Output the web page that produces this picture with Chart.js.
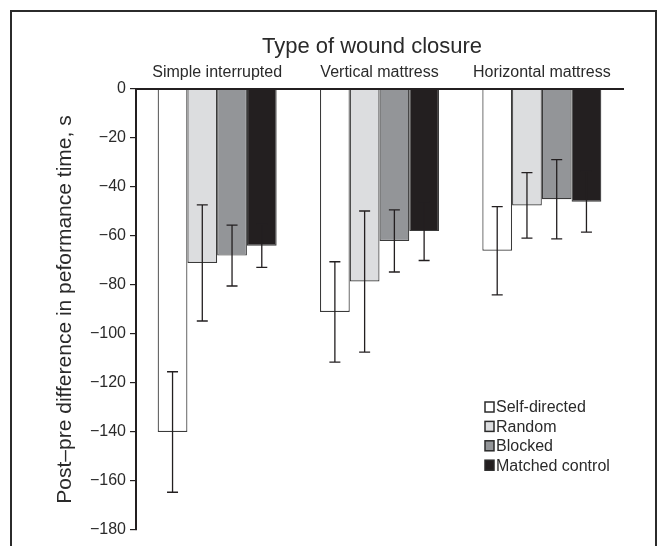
<!DOCTYPE html>
<html>
<head>
<meta charset="utf-8">
<script src="https://cdn.jsdelivr.net/npm/chart.js@4.4.1/dist/chart.umd.min.js"></script>
<style>
  html, body { margin: 0; padding: 0; background: #fff; }
  canvas { display: block; }
</style>
</head>
<body>
<canvas id="woundChart" width="658" height="546"></canvas>
<script>
// Data
const categories = ['Simple interrupted', 'Vertical mattress', 'Horizontal mattress'];
const seriesNames = ['Self-directed', 'Random', 'Blocked', 'Matched control'];
const selfDirected = [-140, -91, -66];
const selfDirectedErr = [24.6, 20.5, 18];
const random = [-71, -78.6, -47.5];
const randomErr = [23.7, 28.8, 13.4];
const blocked = [-68, -62, -45];
const blockedErr = [12.4, 12.7, 16.2];
const matched = [-64, -58, -46];
const matchedErr = [8.8, 12, 12.4];
const yTicks = { min: -180, max: 0, step: 20 };
const groupTitle = 'Type of wound closure';

const fills = ['#ffffff', '#dcdddf', '#939598', '#231f20'];
const textColor = '#2a2a2a';
const fontFamily = "'Liberation Sans', Arial, sans-serif";

// Frame round the figure + group title over the categories
const framePlugin = {
    id: 'frame',
    beforeDraw(chart) {
        const c = chart.ctx;
        c.save();
        c.strokeStyle = '#2b2b2b';
        c.lineWidth = 2;
        c.beginPath();
        c.moveTo(11, 546);
        c.lineTo(11, 11);
        c.lineTo(656, 11);
        c.lineTo(656, 546);
        c.stroke();
        c.font = '22px ' + fontFamily;
        c.fillStyle = textColor;
        c.textAlign = 'center';
        c.textBaseline = 'alphabetic';
        c.fillText(groupTitle, 372, 53);
        c.restore();
    }
};

// Error bars (mean ± error) drawn through the y scale
const errorBarPlugin = {
    id: 'errorBars',
    afterDatasetsDraw(chart) {
        const c = chart.ctx;
        const y = chart.scales.y;
        c.save();
        c.strokeStyle = '#231f20';
        c.lineWidth = 1.3;
        chart.data.datasets.forEach((ds, i) => {
            const meta = chart.getDatasetMeta(i);
            meta.data.forEach((bar, j) => {
                const v = ds.data[j], e = ds.errors[j];
                const yTop = y.getPixelForValue(v + e);
                const yBot = y.getPixelForValue(v - e);
                const x = bar.x, cap = 5.5;
                c.beginPath();
                c.moveTo(x, yTop); c.lineTo(x, yBot);
                c.moveTo(x - cap, yTop); c.lineTo(x + cap, yTop);
                c.moveTo(x - cap, yBot); c.lineTo(x + cap, yBot);
                c.stroke();
            });
        });
        c.restore();
    }
};

// Legend in the lower right of the plot
const legendPlugin = {
    id: 'boxLegend',
    afterDraw(chart) {
        const c = chart.ctx;
        c.save();
        c.font = '16px ' + fontFamily;
        c.textBaseline = 'middle';
        chart.data.datasets.forEach((ds, i) => {
            const yy = 407 + i * 19.4;
            c.fillStyle = ds.backgroundColor;
            c.fillRect(485, yy - 5, 9, 10);
            c.strokeStyle = '#2b2b2b';
            c.lineWidth = 1.5;
            c.strokeRect(485, yy - 5, 9, 10);
            c.fillStyle = textColor;
            c.fillText(ds.label, 496, yy + 1);
        });
        c.restore();
    }
};

const values = [selfDirected, random, blocked, matched];
const errors = [selfDirectedErr, randomErr, blockedErr, matchedErr];

const ctx = document.getElementById('woundChart').getContext('2d');
new Chart(ctx, {
    type: 'bar',
    data: {
        labels: categories,
        datasets: seriesNames.map((name, i) => ({
            label: name,
            data: values[i],
            errors: errors[i],
            backgroundColor: fills[i],
            borderColor: '#3a3a3a',
            borderWidth: 1.2,
            categoryPercentage: 0.733,
            barPercentage: 1.0
        }))
    },
    options: {
        responsive: false,
        animation: false,
        devicePixelRatio: 1,
        layout: { padding: { left: 0, top: 0, right: 35, bottom: 16 } },
        plugins: {
            legend: { display: false },
            tooltip: { enabled: false }
        },
        scales: {
            x: {
                position: 'top',
                grid: { display: false, drawTicks: false },
                border: { display: true, color: '#231f20', width: 2, z: 1 },
                ticks: {
                    color: textColor,
                    font: { family: fontFamily, size: 16 },
                    padding: 7
                },
                afterFit(scale) { scale.height = 89; }
            },
            y: {
                min: yTicks.min,
                max: yTicks.max,
                grid: { drawOnChartArea: false, drawTicks: true, tickLength: 6, color: '#231f20', lineWidth: 1.2 },
                border: { display: true, color: '#231f20', width: 2, z: 1 },
                ticks: {
                    stepSize: yTicks.step,
                    color: textColor,
                    font: { family: fontFamily, size: 16 },
                    padding: 4,
                    callback: v => v < 0 ? '\u2212' + Math.abs(v) : String(v)
                },
                title: {
                    display: true,
                    text: 'Post\u2013pre difference in peformance time, s',
                    color: textColor,
                    font: { family: fontFamily, size: 21 },
                    padding: { top: 53, bottom: 0 }
                },
                afterFit(scale) { scale.width = 136; }
            }
        }
    },
    plugins: [framePlugin, errorBarPlugin, legendPlugin]
});
</script>
</body>
</html>
